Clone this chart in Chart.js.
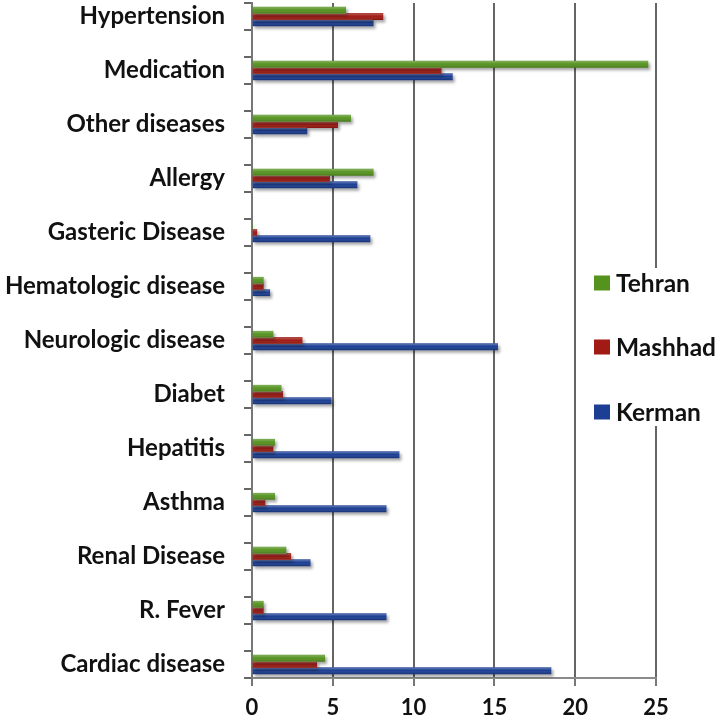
<!DOCTYPE html>
<html>
<head>
<meta charset="utf-8">
<script src="https://cdn.jsdelivr.net/npm/chart.js@4/dist/chart.umd.min.js"></script>
<style>
  html, body { margin: 0; padding: 0; background: #ffffff; }
  #wrap { width: 718px; height: 723px; }
</style>
</head>
<body>
<div id="wrap"><canvas id="c" width="718" height="723"></canvas></div>
<script>
const categories = ['Hypertension', 'Medication', 'Other diseases', 'Allergy', 'Gasteric Disease',
  'Hematologic disease', 'Neurologic disease', 'Diabet', 'Hepatitis', 'Asthma',
  'Renal Disease', 'R. Fever', 'Cardiac disease'];
const tehran  = [5.8, 24.5, 6.1, 7.5, 0,   0.7, 1.3, 1.8, 1.4, 1.4, 2.1, 0.7, 4.5];
const mashhad = [8.1, 11.7, 5.3, 4.8, 0.3, 0.7, 3.1, 1.9, 1.3, 0.8, 2.4, 0.7, 4.0];
const kerman  = [7.5, 12.4, 3.4, 6.5, 7.3, 1.1, 15.2, 4.9, 9.1, 8.3, 3.6, 8.3, 18.5];
const seriesNames = ['Tehran', 'Mashhad', 'Kerman'];
const seriesColors = ['#55931f', '#a11a13', '#1c3f94'];
const xTickValues = [0, 5, 10, 15, 20, 25];

const FONT = 'Lato, "Open Sans", sans-serif';

function toPoints(values) {
  return values.map((v, i) => ({ x: v, y: i }));
}

// y tick positions: category centres (labels) and quarter offsets (tick marks)
const yTickValues = [];
categories.forEach((c, i) => { yTickValues.push(i - 0.25, i, i + 0.25); });

const shadowPlugin = {
  id: 'barShadow',
  beforeDatasetsDraw(chart) {
    const ctx = chart.ctx;
    ctx.save();
    ctx.shadowColor = 'rgba(0,0,0,0.35)';
    ctx.shadowBlur = 3;
    ctx.shadowOffsetX = 2;
    ctx.shadowOffsetY = 2.5;
  },
  afterDatasetsDraw(chart) {
    chart.ctx.restore();
  }
};

const shadePlugin = {
  id: 'barShade',
  afterDatasetsDraw(chart) {
    const ctx = chart.ctx;
    ctx.save();
    chart.data.datasets.forEach((ds, di) => {
      chart.getDatasetMeta(di).data.forEach(el => {
        const p = el.getProps(['x', 'y', 'base', 'height'], true);
        const w = Math.abs(p.x - p.base);
        if (!(w > 0)) return;
        const top = p.y - p.height / 2;
        const g = ctx.createLinearGradient(0, top, 0, top + p.height);
        g.addColorStop(0, 'rgba(255,255,255,0.30)');
        g.addColorStop(0.45, 'rgba(255,255,255,0)');
        g.addColorStop(1, 'rgba(0,0,0,0.22)');
        ctx.fillStyle = g;
        ctx.fillRect(Math.min(p.x, p.base), top, w, p.height);
      });
    });
    ctx.restore();
  }
};

const legendPlugin = {
  id: 'insideLegend',
  afterDraw(chart) {
    const ctx = chart.ctx;
    ctx.save();
    ctx.fillStyle = '#ffffff';
    ctx.fillRect(586, 268, 118, 158);
    const ys = [283, 347, 412];
    chart.data.datasets.forEach((ds, i) => {
      ctx.fillStyle = ds.backgroundColor;
      ctx.fillRect(594, ys[i] - 7.5, 16, 15);
      ctx.fillStyle = '#111111';
      ctx.font = 'bold 24.5px ' + FONT;
      ctx.textAlign = 'left';
      ctx.textBaseline = 'middle';
      ctx.fillText(ds.label, 616, ys[i] + 1);
    });
    ctx.restore();
  }
};

new Chart(document.getElementById('c'), {
  type: 'bar',
  data: {
    datasets: [
      { label: seriesNames[0], data: toPoints(tehran),  backgroundColor: seriesColors[0] },
      { label: seriesNames[1], data: toPoints(mashhad), backgroundColor: seriesColors[1] },
      { label: seriesNames[2], data: toPoints(kerman),  backgroundColor: seriesColors[2] }
    ]
  },
  plugins: [shadowPlugin, shadePlugin, legendPlugin],
  options: {
    indexAxis: 'y',
    responsive: false,
    animation: false,
    layout: { padding: { top: 3, right: 62, left: 0, bottom: 0 } },
    datasets: { bar: { barThickness: 6.2, borderWidth: 0 } },
    plugins: { legend: { display: false }, tooltip: { enabled: false } },
    scales: {
      x: {
        type: 'linear',
        min: 0,
        max: 25,
        z: 1,
        afterFit(scale) { scale.height = 45; scale.paddingLeft = 0; scale.paddingRight = 0; },
        afterBuildTicks(scale) { scale.ticks = xTickValues.map(v => ({ value: v })); },
        grid: { color: 'rgba(50,50,50,0.75)', lineWidth: 2, tickLength: 8, tickColor: '#777777' },
        border: { display: true, color: '#8a8a8a', width: 2 },
        ticks: { color: '#111111', padding: 9, font: { family: FONT, size: 22, weight: 'bold' } }
      },
      y: {
        type: 'linear',
        reverse: true,
        offset: false,
        min: -0.25,
        max: categories.length - 0.75,
        afterFit(scale) { scale.width = 252; scale.paddingTop = 0; scale.paddingBottom = 0; },
        afterBuildTicks(scale) { scale.ticks = yTickValues.map(v => ({ value: v })); },
        grid: {
          offset: false,
          drawOnChartArea: false,
          drawTicks: true,
          tickLength: 8,
          lineWidth: 2,
          tickColor: (ctx) => (ctx.tick && Number.isInteger(ctx.tick.value)) ? 'rgba(0,0,0,0)' : '#666666'
        },
        border: { display: true, color: '#777777', width: 2 },
        ticks: {
          autoSkip: false,
          padding: 19,
          color: '#111111',
          font: { family: FONT, size: 24, weight: 'bold' },
          callback: (value) => Number.isInteger(value) ? categories[value] : ''
        }
      }
    }
  }
});
</script>
</body>
</html>
